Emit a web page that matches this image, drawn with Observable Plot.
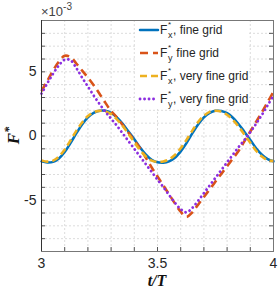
<!DOCTYPE html>
<html><head><meta charset="utf-8">
<script src="https://cdn.jsdelivr.net/npm/d3@7"></script>
<script src="https://cdn.jsdelivr.net/npm/@observablehq/plot@0.6"></script>
<style>body{margin:0;background:#fff;} #chart{position:relative;width:278px;height:290px;}</style>
</head><body><div id="chart"></div>
<script>
const tValues = [3.000,3.025,3.050,3.075,3.100,3.125,3.150,3.175,3.200,3.225,3.250,3.275,3.300,3.325,3.350,3.375,3.400,3.425,3.450,3.475,3.500,3.525,3.550,3.575,3.600,3.625,3.650,3.675,3.700,3.725,3.750,3.775,3.800,3.825,3.850,3.875,3.900,3.925,3.950,3.975,4.000];
const fxFine = [-1.98,-2.07,-2.02,-1.75,-1.25,-0.55,0.2,0.9,1.45,1.8,1.97,1.97,1.8,1.45,0.95,0.35,-0.25,-0.9,-1.45,-1.85,-2.05,-2.08,-1.98,-1.7,-1.2,-0.55,0.2,0.9,1.45,1.8,1.96,1.95,1.78,1.42,0.92,0.32,-0.3,-0.95,-1.45,-1.8,-1.97];
const fyFine = [3.5,4.3,5.1,5.8,6.25,6.15,5.65,5.1,4.55,3.95,3.3,2.6,1.95,1.45,0.85,0.25,-0.35,-0.95,-1.7,-2.45,-3.15,-3.85,-4.55,-5.25,-5.9,-6.3,-5.95,-5.35,-4.75,-4.15,-3.55,-2.95,-2.35,-1.75,-1.15,-0.4,0.35,1.1,1.85,2.65,3.45];
const fxVeryFine = [-1.9,-2.0,-1.92,-1.6,-1.05,-0.35,0.4,1.05,1.55,1.85,1.96,1.92,1.7,1.3,0.78,0.15,-0.48,-1.1,-1.6,-1.92,-2.02,-1.98,-1.82,-1.48,-0.95,-0.3,0.42,1.08,1.58,1.88,1.97,1.9,1.66,1.25,0.72,0.1,-0.52,-1.15,-1.6,-1.88,-1.95];
const fyVeryFine = [3.3,4.1,4.85,5.5,5.95,5.9,5.3,4.55,3.85,3.15,2.5,1.9,1.35,0.8,0.2,-0.4,-1.0,-1.6,-2.2,-2.8,-3.4,-3.98,-4.6,-5.2,-5.7,-5.95,-5.6,-5.05,-4.45,-3.85,-3.25,-2.65,-2.05,-1.45,-0.85,-0.3,0.3,0.95,1.65,2.4,3.15];

const xTicks = [3, 3.5, 4];
const yTicks = [-5, 0, 5];
const xMinorTicks = [3.1,3.2,3.3,3.4,3.5,3.6,3.7,3.8,3.9];
const yMinorTicks = [-8,-7,-6,-5,-4,-3,-2,-1,0,1,2,3,4,5,6,7,8];
const seriesSub = ["x","y","x","y"];
const seriesRest = [", fine grid"," fine grid",", very fine grid",", very fine grid"];
const colors = ["#0072BD","#D95319","#EDB120","#8C2EE0"];
const dashes = [null,"8,5","7,4","0.1,4.4"];
const widths = [2.5,2.6,2.6,2.8];
const caps = ["round","butt","butt","round"];
const seriesValues = [fxFine, fyFine, fxVeryFine, fyVeryFine];

const W = 278, H = 290, mL = 41, mR = 5, mT = 20, mB = 39;
const pw = W - mL - mR, ph = H - mT - mB;
const font = "'Liberation Sans', Arial, Helvetica, sans-serif";

const lineMarks = seriesValues.map((vals, i) =>
  Plot.line(tValues.map((t, k) => ({t, v: vals[k]})), {
    x: "t", y: "v", stroke: colors[i], strokeWidth: widths[i],
    strokeDasharray: dashes[i], strokeLinecap: caps[i], curve: "catmull-rom"
  })
);

const chart = Plot.plot({
  width: W, height: H, marginLeft: mL, marginRight: mR, marginTop: mT, marginBottom: mB,
  x: {domain: [3, 4]},
  y: {domain: [-9, 9]},
  style: {fontFamily: font, fontSize: "14px", color: "#262626", background: "#fff"},
  marks: [
    Plot.gridX(xMinorTicks, {stroke: "#dcdcdc", strokeOpacity: 1, strokeDasharray: "2,2"}),
    Plot.gridY(yMinorTicks, {stroke: "#dcdcdc", strokeOpacity: 1, strokeDasharray: "2,2"}),
    Plot.tickY(yMinorTicks.concat([-9, 9]), {y: d => d, stroke: "#555", insetRight: pw - 4}),
    Plot.tickY(yMinorTicks.concat([-9, 9]), {y: d => d, stroke: "#555", insetLeft: pw - 4}),
    Plot.tickX(xMinorTicks, {x: d => d, stroke: "#555", insetTop: ph - 4}),
    ...lineMarks,
    Plot.frame({stroke: "#777", strokeWidth: 1}),
    Plot.ruleX([3], {stroke: "#333", strokeWidth: 1}),
    Plot.axisX(xTicks, {tickSize: 0, tickPadding: 7, label: null, fontSize: 14, tickFormat: d => String(d)}),
    Plot.axisY(yTicks, {tickSize: 0, tickPadding: 5, label: null, fontSize: 14, tickFormat: d => String(d)})
  ]
});

document.getElementById("chart").appendChild(chart);
const svg = d3.select(chart);

// exponent label
const ex = svg.append("text").attr("x", mL).attr("y", mT - 4).attr("text-anchor", "start")
  .attr("font-family", font).attr("font-size", 13).attr("fill", "#444");
ex.append("tspan").text("\u00d710");
ex.append("tspan").attr("dy", -6).attr("font-size", 10).text("-3");

// y label
const yl = svg.append("text")
  .attr("transform", `translate(19,${mT + ph / 2}) rotate(-90)`)
  .attr("text-anchor", "middle")
  .attr("font-family", "'Liberation Serif', 'Times New Roman', serif")
  .attr("font-weight", "bold").attr("font-style", "italic").attr("font-size", 17).attr("fill", "#111");
yl.append("tspan").text("F");
yl.append("tspan").attr("dy", -6).attr("font-size", 12).text("*");

// x label
svg.append("text").attr("x", mL + pw / 2).attr("y", H - 4)
  .attr("text-anchor", "middle")
  .attr("font-family", "'Liberation Serif', 'Times New Roman', serif")
  .attr("font-weight", "bold").attr("font-style", "italic").attr("font-size", 16).attr("fill", "#111")
  .text("t/T");

// legend
const lg = svg.append("g");
lg.append("rect").attr("x", 135).attr("y", mT + 1).attr("width", 112).attr("height", 88).attr("fill", "#fff");
seriesSub.forEach((sub, i) => {
  const cy = mT + 10 + i * 23;
  lg.append("line").attr("x1", 140).attr("x2", 158).attr("y1", cy).attr("y2", cy)
    .attr("stroke", colors[i]).attr("stroke-width", widths[i])
    .attr("stroke-dasharray", dashes[i]).attr("stroke-linecap", caps[i]);
  const tx = lg.append("g").attr("font-family", font).attr("fill", "#262626").attr("text-anchor", "start");
  tx.append("text").attr("x", 160).attr("y", cy + 4).attr("font-size", 12).text("F");
  tx.append("text").attr("x", 168).attr("y", cy - 3).attr("font-size", 8).text("*");
  tx.append("text").attr("x", 168).attr("y", cy + 8).attr("font-size", 9).text(sub);
  tx.append("text").attr("x", 173).attr("y", cy + 4).attr("font-size", 12).text(seriesRest[i]);
});
</script>
</body></html>
